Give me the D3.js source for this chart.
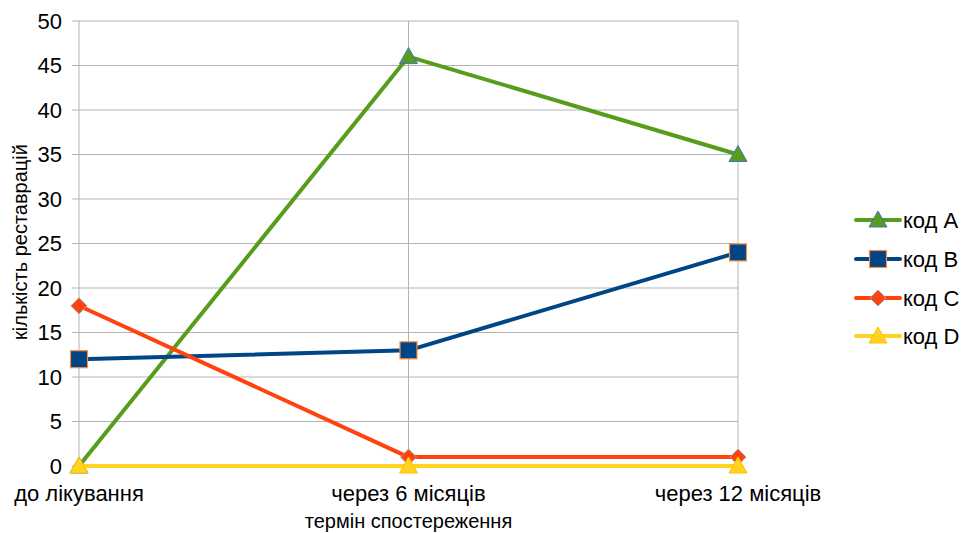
<!DOCTYPE html>
<html>
<head>
<meta charset="utf-8">
<script src="https://cdn.jsdelivr.net/npm/d3@7"></script>
<style>
  body { margin: 0; background: #fff; }
  svg { font-family: "Liberation Sans", Arial, sans-serif; }
</style>
</head>
<body>
<svg id="chart" width="961" height="533"></svg>
<script>
// Observation periods
const categories = ["до лікування", "через 6 місяців", "через 12 місяців"];
// Number of restorations per code
const codeA = [0, 46, 35];
const codeB = [12, 13, 24];
const codeC = [18, 1, 1];
const codeD = [0, 0, 0];
const seriesNames = ["код A", "код B", "код C", "код D"];
const yTicks = [0, 5, 10, 15, 20, 25, 30, 35, 40, 45, 50];

const series = [
  { name: seriesNames[0], values: codeA, color: "#579d1c", marker: "triangle", stroke: "#4472c4" },
  { name: seriesNames[1], values: codeB, color: "#004586", marker: "square", stroke: "#ff8c3a" },
  { name: seriesNames[2], values: codeC, color: "#ff420e", marker: "diamond", stroke: "#a0a0a0" },
  { name: seriesNames[3], values: codeD, color: "#ffd320", marker: "triangle", stroke: "#ffc000" }
];

const svg = d3.select("#chart");
const plotLeft = 79, plotRight = 738, plotTop = 21, plotBottom = 466;

const x = d3.scalePoint().domain(categories).range([plotLeft, plotRight]).padding(0);
const y = d3.scaleLinear().domain([0, 50]).range([plotBottom, plotTop]);

// Horizontal gridlines and tick marks
svg.append("g").selectAll("line").data(yTicks).join("line")
  .attr("x1", plotLeft - 7).attr("x2", plotRight)
  .attr("y1", d => y(d)).attr("y2", d => y(d))
  .attr("stroke", "#b3b3b3").attr("stroke-width", 1);

// Vertical gridlines at each category
svg.append("g").selectAll("line").data(categories).join("line")
  .attr("x1", d => x(d)).attr("x2", d => x(d))
  .attr("y1", plotTop).attr("y2", plotBottom + 7)
  .attr("stroke", "#b3b3b3").attr("stroke-width", 1);

// Y tick labels
svg.append("g").selectAll("text").data(yTicks).join("text")
  .attr("x", plotLeft - 17).attr("y", d => y(d))
  .attr("dy", "0.36em").attr("text-anchor", "end")
  .attr("font-size", 22).attr("fill", "#000")
  .text(d => d);

// Category labels
svg.append("g").selectAll("text").data(categories).join("text")
  .attr("x", d => x(d)).attr("y", 501)
  .attr("text-anchor", "middle").attr("font-size", 22).attr("fill", "#000")
  .text(d => d);

// Axis titles
svg.append("text")
  .attr("x", (plotLeft + plotRight) / 2).attr("y", 528)
  .attr("text-anchor", "middle").attr("font-size", 20)
  .text("термін спостереження");
svg.append("text")
  .attr("transform", `translate(27, 242) rotate(-90)`)
  .attr("text-anchor", "middle").attr("font-size", 20)
  .text("кількість реставрацій");

function drawMarker(g, type, cx, cy, fill, stroke) {
  if (type === "triangle") {
    g.append("path")
      .attr("d", `M${cx},${cy - 9} L${cx + 9},${cy + 7} L${cx - 9},${cy + 7} Z`)
      .attr("fill", fill).attr("stroke", stroke).attr("stroke-width", 1);
  } else if (type === "square") {
    g.append("rect")
      .attr("x", cx - 8.5).attr("y", cy - 8.5).attr("width", 17).attr("height", 17)
      .attr("fill", fill).attr("stroke", stroke).attr("stroke-width", 1.2);
  } else {
    g.append("path")
      .attr("d", `M${cx},${cy - 8} L${cx + 8},${cy} L${cx},${cy + 8} L${cx - 8},${cy} Z`)
      .attr("fill", fill).attr("stroke", stroke).attr("stroke-width", 1);
  }
}

const line = d3.line().x((d, i) => x(categories[i])).y(d => y(d));

series.forEach(s => {
  const g = svg.append("g");
  g.append("path").datum(s.values)
    .attr("d", line).attr("fill", "none")
    .attr("stroke", s.color).attr("stroke-width", 4).attr("stroke-linejoin", "round");
  s.values.forEach((v, i) => drawMarker(g, s.marker, x(categories[i]), y(v), s.color, s.stroke));
});

// Legend
const legend = svg.append("g");
const legendY = [220, 259, 298, 336];
series.forEach((s, i) => {
  const ly = legendY[i];
  legend.append("line")
    .attr("x1", 856).attr("x2", 900).attr("y1", ly).attr("y2", ly)
    .attr("stroke", s.color).attr("stroke-width", 4).attr("stroke-linecap", "round");
  drawMarker(legend, s.marker, 878, ly, s.color, s.stroke);
  legend.append("text")
    .attr("x", 903).attr("y", ly).attr("dy", "0.36em")
    .attr("font-size", 22).text(s.name);
});
</script>
</body>
</html>
